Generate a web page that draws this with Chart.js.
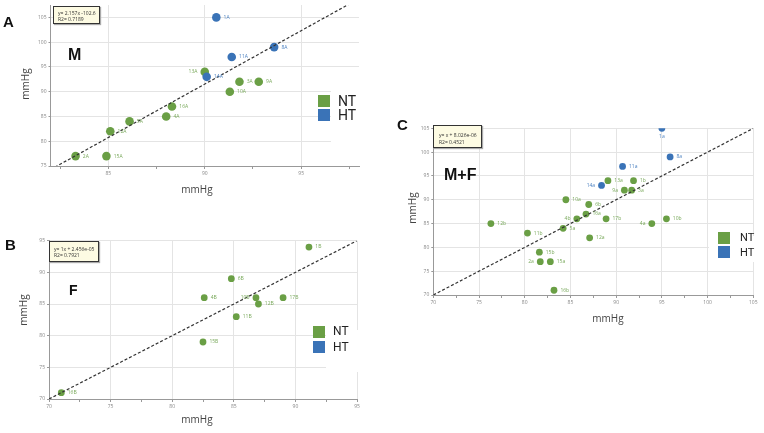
<!DOCTYPE html>
<html>
<head>
<meta charset="utf-8">
<script src="https://cdn.jsdelivr.net/npm/chart.js@4.4.1/dist/chart.umd.min.js"></script>
<style>
  body { margin:0; width:764px; height:433px; position:relative; overflow:hidden; background:#fff; font-family:'Open Sans',sans-serif; }
  canvas { position:absolute; }
  .t { position:absolute; white-space:nowrap; line-height:1; }
  .letter { font:bold 15px 'Liberation Sans',Arial,sans-serif; color:#111; }
  .group { font:bold 16px 'Liberation Sans',Arial,sans-serif; color:#111; }
  .axt { font-size:10px; color:#444; transform:translate(-50%,-50%); }
  .axt.y { transform:translate(-50%,-50%) rotate(-90deg); }
  .eq { position:absolute; background:#fdfbe3; border:1px solid #333; box-shadow:1px 1px 1px #aaa; box-sizing:border-box; overflow:hidden; }
  .eq span { position:absolute; left:4px; top:3px; font:10px 'Open Sans',sans-serif; color:#333; line-height:12px;
             white-space:nowrap; transform:scale(0.5); transform-origin:0 0; }
  .wipe { position:absolute; background:#fff; }
  .sq { position:absolute; width:12px; height:12px; }
  .lg { position:absolute; font-family:Roboto,sans-serif; color:#222; line-height:1; transform:translateY(-50%); }
</style>
</head>
<body>
<canvas id="chartA" width="380" height="200" style="left:0;top:0"></canvas>
<canvas id="chartB" width="380" height="233" style="left:0;top:200px"></canvas>
<canvas id="chartC" width="384" height="233" style="left:380px;top:100px"></canvas>

<!-- panel letters and group names -->
<div class="t letter" style="left:3px;top:13px">A</div>
<div class="t letter" style="left:5px;top:236px">B</div>
<div class="t letter" style="left:397px;top:116px">C</div>
<div class="t group" style="left:68px;top:46px">M</div>
<div class="t group" style="left:69px;top:282px;font-size:14px">F</div>
<div class="t group" style="left:444px;top:166px">M+F</div>

<!-- axis titles -->
<div class="t axt" style="left:197px;top:189px">mmHg</div>
<div class="t axt y" style="left:25px;top:84px">mmHg</div>
<div class="t axt" style="left:197px;top:419px">mmHg</div>
<div class="t axt y" style="left:23px;top:310px">mmHg</div>
<div class="t axt" style="left:608px;top:318px">mmHg</div>
<div class="t axt y" style="left:412px;top:208px">mmHg</div>

<!-- regression boxes -->
<div class="eq" style="left:53px;top:6px;width:47px;height:18px"><span>y= 2.157x -102.6<br>R2= 0.7189</span></div>
<div class="eq" style="left:49px;top:241px;width:50px;height:21px"><span style="top:4px">y= 1x + 2.456e-05<br>R2= 0.7921</span></div>
<div class="eq" style="left:433px;top:125px;width:49px;height:23px"><span style="left:5px;top:5px;line-height:14px">y= x + 8.026e-06<br>R2= 0.4521</span></div>

<!-- legends -->
<div class="wipe" style="left:331px;top:86px;width:30px;height:60px"></div>
<div class="sq" style="left:318px;top:95px;background:#6a9f45"></div>
<div class="sq" style="left:318px;top:109px;background:#3a73b7"></div>
<div class="lg" style="left:338px;top:101px;font-size:14px">NT</div>
<div class="lg" style="left:338px;top:115px;font-size:14px">HT</div>

<div class="wipe" style="left:326px;top:330px;width:34px;height:42px"></div>
<div class="sq" style="left:313px;top:326px;background:#6a9f45"></div>
<div class="sq" style="left:313px;top:341px;background:#3a73b7"></div>
<div class="lg" style="left:333px;top:331px;font-size:12px">NT</div>
<div class="lg" style="left:333px;top:347px;font-size:12px">HT</div>

<div class="wipe" style="left:709px;top:236px;width:46px;height:26px"></div>
<div class="sq" style="left:718px;top:232px;background:#6a9f45"></div>
<div class="sq" style="left:718px;top:246px;background:#3a73b7"></div>
<div class="lg" style="left:740px;top:237px;font-size:11px">NT</div>
<div class="lg" style="left:740px;top:252px;font-size:11px">HT</div>

<script>
// panel A: M
const aNtNames = ['13A', '3A', '9A', '10A', '16A', '4A', '5A', '12A', '2A', '15A'];
const aNtX = [90.0, 91.8, 92.8, 91.3, 88.3, 88.0, 86.1, 85.1, 83.3, 84.9];
const aNtY = [94, 92, 92, 90, 87, 85, 84, 82, 77, 77];
const aHtNames = ['1A', '8A', '11A', '14A'];
const aHtX = [90.6, 93.6, 91.4, 90.1];
const aHtY = [105, 99, 97, 93];
const aFit = [2.157, -102.6]; // slope, intercept as printed

// panel B: F
const bNtNames = ['1B', '6B', '4B', '10B', '17B', '12B', '11B', '15B', '16B'];
const bNtX = [91.1, 84.8, 82.6, 86.8, 89.0, 87.0, 85.2, 82.5, 71.0];
const bNtY = [94, 89, 86, 86, 86, 85, 83, 79, 71];
const bFit = [1, 2.456e-05];

// panel C: M+F
const cNtNames = ['13a', '1b', '9a', '3a', '10a', '6b', '16a', '4b', '17b', '10b', '4a', '12b', '5a', '11b', '12a', '15b', '2a', '15a', '16b'];
const cNtX = [89.1, 91.9, 90.9, 91.7, 84.5, 87.0, 86.7, 85.7, 88.9, 95.5, 93.9, 76.3, 84.2, 80.3, 87.1, 81.6, 81.7, 82.8, 83.2];
const cNtY = [94, 94, 92, 92, 90, 89, 87, 86, 86, 86, 85, 85, 84, 83, 82, 79, 77, 77, 71];
const cHtNames = ['1a', '8a', '11a', '14a'];
const cHtX = [95.0, 95.9, 90.7, 88.4];
const cHtY = [105, 99, 97, 93];
const cFit = [1, 8.026e-06];

// labels that sit left of / under their dot
const leftNames = ['13A', '10B', '14a', '9a', '4b', '4a', '2a'];
const belowNames = ['1a'];

const NT = '#6a9f45', HT = '#3a73b7';
const NT_TXT = '#78a85a', HT_TXT = '#4b80c0';

const pts = (xs, ys) => xs.map((x, i) => ({ x, y: ys[i] }));

const dotLabels = {
  id: 'dotLabels',
  afterDatasetsDraw(chart) {
    const ctx = chart.ctx;
    chart.data.datasets.forEach((ds, i) => {
      if (!ds.names) return;
      const meta = chart.getDatasetMeta(i);
      ctx.save();
      ctx.font = '5px "Open Sans"';
      ctx.fillStyle = ds.txtColor;
      ctx.textBaseline = 'middle';
      meta.data.forEach((p, j) => {
        const n = ds.names[j], r = ds.pointRadius;
        if (belowNames.includes(n)) {
          ctx.textAlign = 'center';
          ctx.fillText(n, p.x, p.y + r + 5);
        } else if (leftNames.includes(n)) {
          ctx.textAlign = 'right';
          ctx.fillText(n, p.x - r - 3, p.y);
        } else {
          ctx.textAlign = 'left';
          ctx.fillText(n, p.x + r + 3, p.y);
        }
      });
      ctx.restore();
    });
  }
};

function makeChart(id, o) {
  const fitData = [
    { x: o.xMin, y: o.fit[0] * o.xMin + o.fit[1] },
    { x: o.xMax, y: o.fit[0] * o.xMax + o.fit[1] }
  ];
  const datasets = [{
    data: fitData, showLine: true, pointRadius: 0, borderColor: '#333',
    borderWidth: 1.2, borderDash: [3, 2]
  }];
  o.groups.forEach(g => datasets.push({
    data: pts(g.x, g.y), names: g.names, backgroundColor: g.color, borderColor: g.color,
    txtColor: g.txt, pointRadius: o.r, pointHoverRadius: o.r, borderWidth: 0
  }));
  const tickFont = { family: 'Open Sans', size: 5 };
  return new Chart(document.getElementById(id), {
    type: 'scatter',
    data: { datasets },
    options: {
      responsive: false, animation: false,
      layout: { padding: o.pad },
      plugins: { legend: { display: false }, tooltip: { enabled: false } },
      scales: {
        x: {
          min: o.xMin, max: o.xMax,
          afterFit: s => { s.height = o.xh; },
          border: { color: '#999' },
          grid: {
            color: c => (c.tick && c.tick.value % 5 === 0) ? '#e4e4e4' : 'rgba(0,0,0,0)',
            tickColor: '#999', tickLength: 3
          },
          ticks: {
            stepSize: 2.5, autoSkip: false, maxRotation: 0, padding: 2, color: '#888', font: tickFont,
            includeBounds: false,
            callback: v => (v % 5 === 0 ? String(v) : '')
          }
        },
        y: {
          min: o.yMin, max: o.yMax,
          afterFit: s => { s.width = o.yw; },
          border: { color: '#999' },
          grid: { color: '#e4e4e4', tickColor: '#999', tickLength: 2 },
          ticks: { stepSize: 5, padding: 2, color: '#888', font: tickFont, includeBounds: false }
        }
      }
    },
    plugins: [dotLabels]
  });
}

makeChart('chartA', {
  xMin: 82, xMax: 98, yMin: 75, yMax: 107.5, fit: aFit, r: 4.3,
  pad: { left: 0, top: 3.5, right: 21, bottom: 0 }, yw: 50.5, xh: 34,
  groups: [
    { names: aHtNames, x: aHtX, y: aHtY, color: HT, txt: HT_TXT },
    { names: aNtNames, x: aNtX, y: aNtY, color: NT, txt: NT_TXT }
  ]
});

makeChart('chartB', {
  xMin: 70, xMax: 95, yMin: 70, yMax: 95, fit: bFit, r: 3.4,
  pad: { left: 0, top: 40.7, right: 23, bottom: 0 }, yw: 49, xh: 34,
  groups: [
    { names: bNtNames, x: bNtX, y: bNtY, color: NT, txt: NT_TXT }
  ]
});

makeChart('chartC', {
  xMin: 70, xMax: 105, yMin: 70, yMax: 105, fit: cFit, r: 3.4,
  pad: { left: 0, top: 28.3, right: 10.7, bottom: 0 }, yw: 53.3, xh: 38,
  groups: [
    { names: cHtNames, x: cHtX, y: cHtY, color: HT, txt: HT_TXT },
    { names: cNtNames, x: cNtX, y: cNtY, color: NT, txt: NT_TXT }
  ]
});
</script>
</body>
</html>
